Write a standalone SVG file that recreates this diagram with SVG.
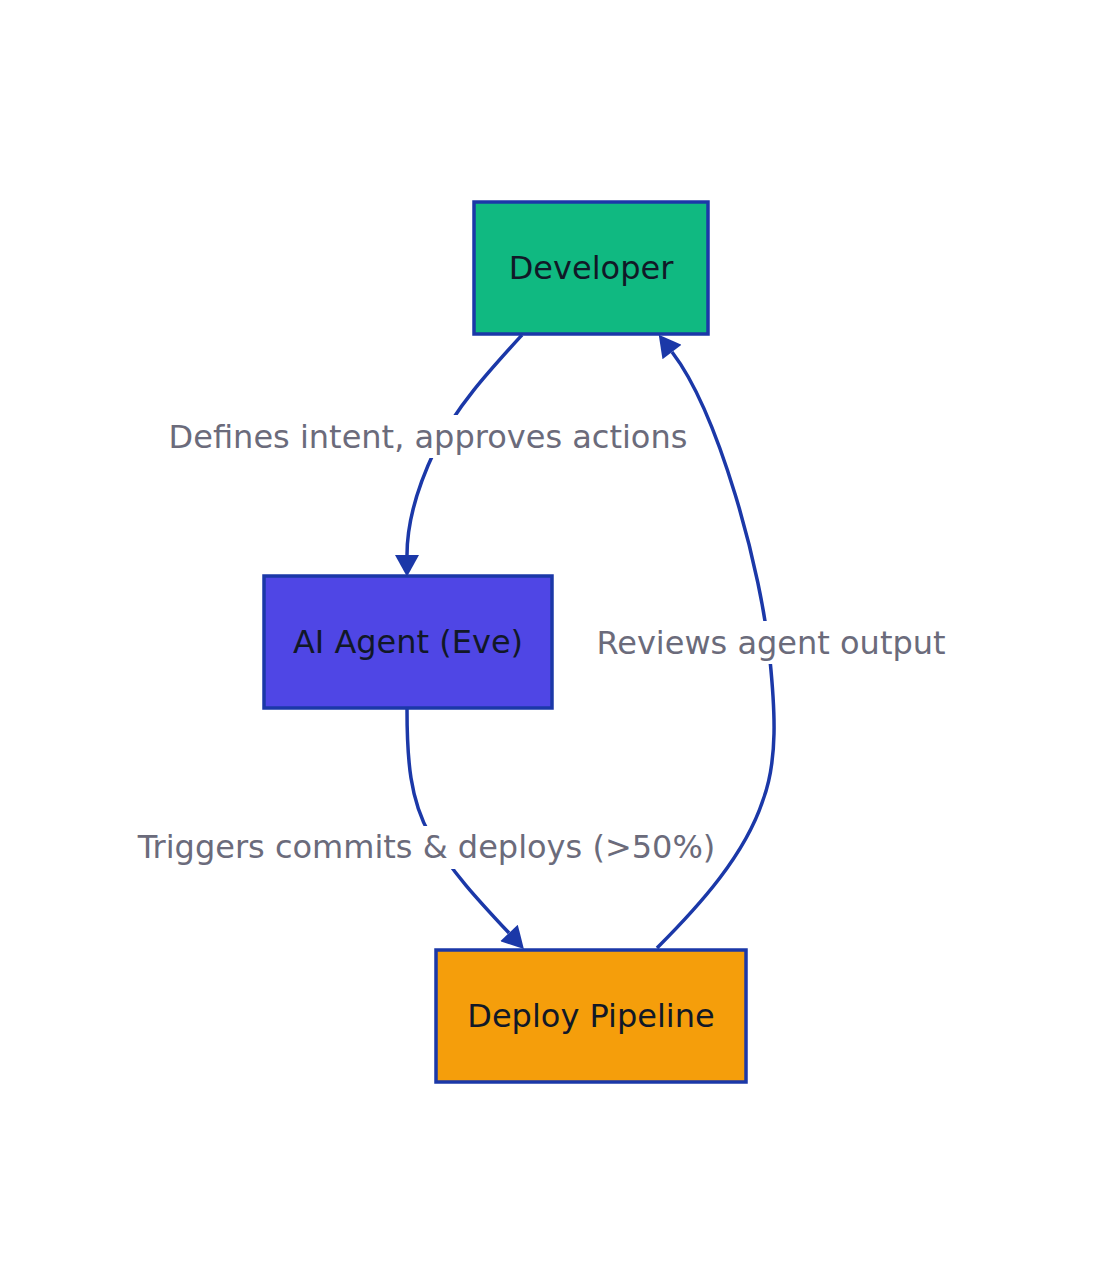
<svg xmlns="http://www.w3.org/2000/svg" width="1114" height="1284" viewBox="0 0 1114 1284">
<style>
.node rect{stroke:#1b38a8;stroke-width:3.5}
.node text{font-family:"DejaVu Sans",sans-serif;font-size:32px;fill:#111827;text-anchor:middle;dominant-baseline:central}
.edge{fill:none;stroke:#1b38a8;stroke-width:3.5}
.lbl rect{fill:#ffffff}
.lbl text{font-family:"DejaVu Sans",sans-serif;font-size:32px;fill:#6b6b7b;text-anchor:middle;dominant-baseline:central}
</style>
<defs>
<marker id="arrow" markerUnits="userSpaceOnUse" markerWidth="24" markerHeight="24" refX="0" refY="11" orient="auto" viewBox="0 0 20 22">
<path d="M0,0 L20,11 L0,22 z" fill="#1b38a8"/>
</marker>
</defs>
<rect width="1114" height="1284" fill="#ffffff"/>
<g id="connectors">
<path class="edge" d="M522,335 C490,370 455,408 435,450 C415,492 407,525 407,555" marker-end="url(#arrow)"/>
<path class="edge" d="M407,709 C407,760 410,800 430,835 C450,870 480,902 509,933" marker-end="url(#arrow)"/>
<path class="edge" d="M657,948 C700,905 745,855 763,800 C778,760 775,710 770,660 C762,570 718,412 672,352" marker-end="url(#arrow)"/>
<g class="lbl"><rect x="166" y="415" width="524" height="43"/><text x="428" y="437">Defines intent, approves actions</text></g>
<g class="lbl"><rect x="594" y="621" width="354" height="43"/><text x="771" y="643">Reviews agent output</text></g>
<g class="lbl"><rect x="135" y="826" width="583" height="43"/><text x="426.5" y="847">Triggers commits &amp; deploys (&gt;50%)</text></g>
</g>
<g id="node-developer" class="node"><rect x="474" y="202" width="234" height="132" fill="#10b981"/><text x="591" y="268">Developer</text></g>
<g id="node-agent" class="node"><rect x="264" y="576" width="288" height="132" fill="#4f46e5"/><text x="408" y="642">AI Agent (Eve)</text></g>
<g id="node-pipeline" class="node"><rect x="436" y="950" width="310" height="132" fill="#f59e0b"/><text x="591" y="1016">Deploy Pipeline</text></g>
</svg>
